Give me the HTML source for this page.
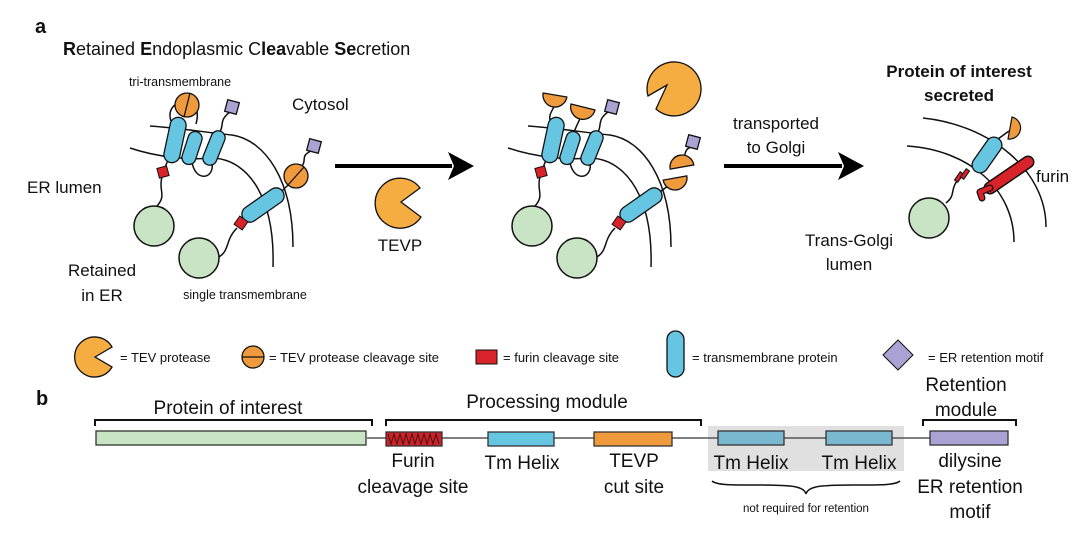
<!DOCTYPE html>
<html><head><meta charset="utf-8"><style>
html,body{margin:0;padding:0;background:#fff}
svg{display:block}
text{font-family:"Liberation Sans",Arial,sans-serif;fill:#111}
</style></head><body>
<svg width="1080" height="547" viewBox="0 0 1080 547" xmlns="http://www.w3.org/2000/svg">
<defs>
<g id="memb" fill="none" stroke="#111" stroke-width="1.5">
  <path d="M150,126 C180,128 210,133 232,135 C265,140 293,180 293,247"/>
  <path d="M130,148 C160,158 190,160 213,158 C250,160 275,200 273,267"/>
  <path d="M192,162 C195,182 215,180 212,162"/>
  <path d="M168,160 L164,170"/>
  <path d="M162,177 C158,190 167,195 157,206"/>
  <path d="M249,214 L241,223"/>
  <path d="M237,228 C225,240 230,250 219,257"/>
</g>
<g id="greens" fill="#c9e4c5" stroke="#111" stroke-width="1.5">
  <circle cx="154" cy="226" r="20"/>
  <circle cx="199" cy="258" r="20"/>
</g>
<g id="helices" fill="#66c6e2" stroke="#111" stroke-width="1.3">
  <rect x="167" y="117" width="16" height="46" rx="8" transform="rotate(12 175 140)"/>
  <rect x="185" y="131" width="14" height="34" rx="7" transform="rotate(18 192 148)"/>
  <rect x="207" y="130" width="14" height="36" rx="7" transform="rotate(22 214 148)"/>
  <rect x="255" y="181" width="16" height="48" rx="8" transform="rotate(55 263 205)"/>
</g>
<g id="reds" fill="#d8232a" stroke="#111" stroke-width="1">
  <rect x="158" y="167" width="10" height="10" transform="rotate(-15 163 172)"/>
  <rect x="236" y="218" width="10" height="10" transform="rotate(35 241 223)"/>
</g>
</defs>

<!-- Panel a labels -->
<text x="35" y="33" font-size="20" font-weight="bold">a</text>
<text x="63" y="55" font-size="18"><tspan font-weight="bold">R</tspan>etained <tspan font-weight="bold">E</tspan>ndoplasmic C<tspan font-weight="bold">lea</tspan>vable <tspan font-weight="bold">Se</tspan>cretion</text>
<text x="180" y="86" font-size="12.5" text-anchor="middle">tri-transmembrane</text>
<text x="292" y="110" font-size="17">Cytosol</text>
<text x="27" y="193" font-size="17">ER lumen</text>
<text x="102" y="276" font-size="17" text-anchor="middle">Retained</text>
<text x="102" y="301" font-size="17" text-anchor="middle">in ER</text>
<text x="245" y="299" font-size="12.5" text-anchor="middle">single transmembrane</text>

<!-- Left structure -->
<use href="#memb"/>
<g fill="none" stroke="#111" stroke-width="1.5">
  <path d="M171,121 C163,98 205,90 196,124"/>
  <path d="M220,132 C224,125 219,120 230,112"/>
  <path d="M279,194 L288,185"/>
  <path d="M302,166 C307,160 300,156 311,151"/>
</g>
<use href="#greens"/>
<use href="#helices"/>
<use href="#reds"/>
<g stroke="#111" stroke-width="1.3">
  <circle cx="187" cy="105" r="12" fill="#ef9a3d"/>
  <line x1="184" y1="117" x2="190" y2="93"/>
  <circle cx="296" cy="176" r="12" fill="#ef9a3d"/>
  <line x1="288" y1="185" x2="304" y2="167"/>
  <rect x="226" y="101" width="12" height="12" fill="#a9a2d2" transform="rotate(15 232 107)"/>
  <rect x="308" y="140" width="12" height="12" fill="#a9a2d2" transform="rotate(15 314 146)"/>
</g>

<!-- Arrow 1 -->
<line x1="335" y1="166" x2="452" y2="166" stroke="#000" stroke-width="4"/>
<polygon points="448,152 474,166 448,180 454,166" fill="#000"/>
<path d="M401,202 L420,188 A25,25 0 1 0 421,217 Z" fill="#f5ad42" stroke="#111" stroke-width="1.3"/>
<text x="400" y="251" font-size="17" text-anchor="middle">TEVP</text>

<!-- Middle structure -->
<g transform="translate(378,0)">
  <use href="#memb"/>
  <g fill="none" stroke="#111" stroke-width="1.5">
    <path d="M172,121 C170,112 178,108 177,101"/>
    <path d="M196,132 C200,122 204,116 205,110"/>
    <path d="M220,132 C224,125 219,120 230,112"/>
    <path d="M279,194 L290,186"/>
    <path d="M304,160 C309,155 305,150 313,147"/>
  </g>
  <use href="#greens"/>
  <use href="#helices"/>
  <use href="#reds"/>
  <g stroke="#111" stroke-width="1.3" fill="#ef9a3d">
    <path d="M165,94 L189,96 A12,12 0 0 1 165,94 Z" transform="rotate(5 177 95)"/>
    <path d="M193,104 L217,110 A12,12 0 0 1 193,104 Z"/>
    <path d="M292,167 L316,167 A12,12 0 0 0 292,167 Z" transform="rotate(-10 304 167)"/>
    <path d="M285,178 L309,178 A12,12 0 0 1 285,178 Z" transform="rotate(-10 297 178)"/>
    <rect x="228" y="101" width="12" height="12" fill="#a9a2d2" transform="rotate(15 234 107)"/>
    <rect x="309" y="136" width="12" height="12" fill="#a9a2d2" transform="rotate(15 315 142)"/>
  </g>
</g>
<path d="M667,85 L648,96 A27,27 0 1 1 656,109 Z" fill="#f5ad42" stroke="#111" stroke-width="1.3"/>

<!-- Arrow 2 -->
<text x="776" y="129" font-size="17" text-anchor="middle">transported</text>
<text x="776" y="153" font-size="17" text-anchor="middle">to Golgi</text>
<line x1="724" y1="166" x2="842" y2="166" stroke="#000" stroke-width="4"/>
<polygon points="838,152 864,166 838,180 844,166" fill="#000"/>

<!-- Right structure -->
<text x="959" y="77" font-size="17" font-weight="bold" text-anchor="middle">Protein of interest</text>
<text x="959" y="101" font-size="17" font-weight="bold" text-anchor="middle">secreted</text>
<g fill="none" stroke="#111" stroke-width="1.5">
  <path d="M923,118 C990,125 1046,170 1046,227"/>
  <path d="M907,146 C970,150 1014,190 1014,242"/>
  <path d="M998,139 L1009,131"/>
  <path d="M957,181 C950,190 956,195 946,203"/>
</g>
<circle cx="929" cy="218" r="20" fill="#c9e4c5" stroke="#111" stroke-width="1.5"/>
<rect x="979" y="135" width="16" height="40" rx="8" fill="#66c6e2" stroke="#111" stroke-width="1.3" transform="rotate(35 987 155)"/>
<path d="M1012,117 L1008,139 A11.2,11.2 0 0 0 1012,117 Z" fill="#ef9a3d" stroke="#111" stroke-width="1.2"/>
<g fill="#d8232a" stroke="#111" stroke-width="1">
  <rect x="957" y="172" width="4" height="10" transform="rotate(35 959 177)"/>
  <rect x="963" y="169" width="4" height="10" transform="rotate(35 965 174)"/>
</g>
<line x1="1028" y1="162" x2="990" y2="188" stroke="#111" stroke-width="13" stroke-linecap="round"/>
<line x1="1028" y1="162" x2="990" y2="188" stroke="#d8232a" stroke-width="10" stroke-linecap="round"/>
<path d="M990,188 L980,192 L982,198" fill="none" stroke="#111" stroke-width="7" stroke-linecap="round" stroke-linejoin="round"/>
<path d="M990,188 L980,192 L982,198" fill="none" stroke="#d8232a" stroke-width="4.5" stroke-linecap="round" stroke-linejoin="round"/>
<text x="1036" y="182" font-size="17">furin</text>
<text x="849" y="246" font-size="17" text-anchor="middle">Trans-Golgi</text>
<text x="849" y="270" font-size="17" text-anchor="middle">lumen</text>

<!-- Legend -->
<path d="M95,357 L112,347 A20,20 0 1 0 112,367 Z" fill="#f5ad42" stroke="#111" stroke-width="1.3"/>
<text x="120" y="362" font-size="13">= TEV protease</text>
<circle cx="253" cy="357" r="11" fill="#ef9a3d" stroke="#111" stroke-width="1.3"/>
<line x1="242" y1="357" x2="264" y2="357" stroke="#111" stroke-width="1.3"/>
<text x="269" y="362" font-size="13">= TEV protease cleavage site</text>
<rect x="476" y="350" width="21" height="14" fill="#d8232a" stroke="#111" stroke-width="1"/>
<text x="503" y="362" font-size="13">= furin cleavage site</text>
<rect x="667" y="331" width="17" height="46" rx="8.5" fill="#66c6e2" stroke="#111" stroke-width="1.3"/>
<text x="692" y="362" font-size="13">= transmembrane protein</text>
<polygon points="898,340 913,355 898,370 883,355" fill="#a9a2d2" stroke="#111" stroke-width="1"/>
<text x="928" y="362" font-size="13">= ER retention motif</text>

<!-- Panel b -->
<text x="36" y="405" font-size="20" font-weight="bold">b</text>
<text x="228" y="414" font-size="19" text-anchor="middle">Protein of interest</text>
<text x="547" y="408" font-size="19" text-anchor="middle">Processing module</text>
<text x="966" y="391" font-size="19" text-anchor="middle">Retention</text>
<text x="966" y="416" font-size="19" text-anchor="middle">module</text>
<g fill="none" stroke="#111" stroke-width="2">
  <path d="M95,426 L95,420 L372,420 L372,426"/>
  <path d="M386,426 L386,420 L701,420 L701,426"/>
  <path d="M923,426 L923,420 L1016,420 L1016,426"/>
</g>
<rect x="708" y="426" width="196" height="45" fill="#e0e0e0"/>
<line x1="367" y1="438" x2="930" y2="438" stroke="#555" stroke-width="1.5"/>
<g stroke="#333" stroke-width="1.3">
  <rect x="96" y="431" width="270" height="14" fill="#c9e4c5"/>
  <rect x="386" y="432" width="56" height="14" fill="#c8232a"/>
  <rect x="488" y="432" width="66" height="14" fill="#66c6e2"/>
  <rect x="594" y="432" width="78" height="14" fill="#ef9a3d"/>
  <rect x="718" y="431" width="66" height="14" fill="#7ab8cf"/>
  <rect x="826" y="431" width="66" height="14" fill="#7ab8cf"/>
  <rect x="930" y="431" width="78" height="14" fill="#a9a2d2"/>
</g>
<polyline points="388,434 391,444 394,434 397,444 400,434 403,444 406,434 409,444 412,434 415,444 418,434 421,444 424,434 427,444 430,434 433,444 436,434 439,444" fill="none" stroke="#4a0a0a" stroke-width="0.9"/>
<g font-size="19" text-anchor="middle">
  <text x="413" y="467">Furin</text>
  <text x="413" y="493">cleavage site</text>
  <text x="522" y="469">Tm Helix</text>
  <text x="634" y="467">TEVP</text>
  <text x="634" y="493">cut site</text>
  <text x="751" y="469">Tm Helix</text>
  <text x="859" y="469">Tm Helix</text>
  <text x="970" y="467">dilysine</text>
  <text x="970" y="493">ER retention</text>
  <text x="970" y="518">motif</text>
</g>
<path d="M712,481 C720,488 760,483 790,486 C800,487 805,490 806,494 C807,490 812,487 822,486 C852,483 892,488 900,481" fill="none" stroke="#111" stroke-width="1.5"/>
<text x="806" y="512" font-size="11.5" text-anchor="middle">not required for retention</text>
</svg>
</body></html>
